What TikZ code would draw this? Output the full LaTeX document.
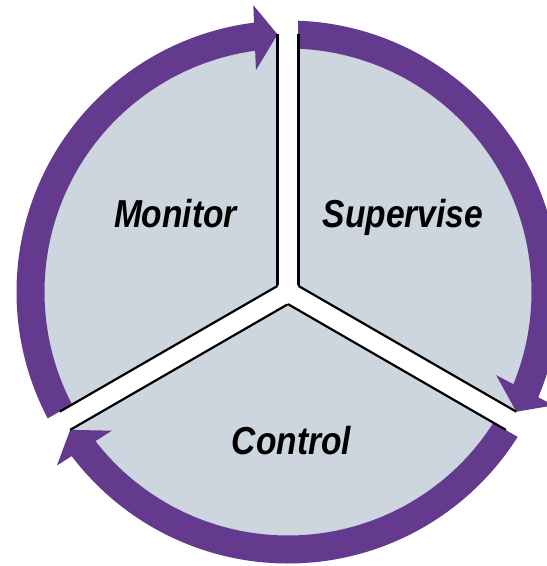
\documentclass[tikz,border=0pt]{standalone}
\usepackage{fontspec}
\setmainfont{Liberation Sans}
\definecolor{cyclepurple}{RGB}{100,58,142}
\definecolor{sectorgray}{RGB}{205,213,223}
\tikzset{
  band/.style={fill=cyclepurple},
  gapbar/.style={fill=white},
  gapedge/.style={draw=black, line width=2.2pt},
  phasetext/.style={anchor=base, inner sep=0pt,
    font=\fontsize{39}{39}\selectfont\bfseries\itshape},
}
% purple ring segment running clockwise from #2 to an arrowhead whose tip sits at angle #1
\newcommand{\cyclearrow}[2]{%
  \fill[band] (#2:271.5pt) arc[start angle=#2, end angle={#1+3.5}, radius=271.5pt]
    -- ({#1+3.5}:243.5pt) arc[start angle={#1+3.5}, end angle=#2, radius=243.5pt] -- cycle;
  \begin{scope}[rotate={#1-90}]
    \fill[band] (0pt,257.8pt) -- (-23pt,288pt) -- (-23pt,223pt) -- cycle;
  \end{scope}
}
\begin{document}
\begin{tikzpicture}
  \useasboundingbox (-288pt,-274pt) rectangle (259pt,292pt);
  \clip (-288pt,-274pt) rectangle (259pt,292pt);
  \fill[white] (-288pt,-274pt) rectangle (259pt,292pt);

  % three grey sectors (one disc, later split by white gaps)
  \fill[sectorgray] (0pt,0pt) circle[radius=257.8pt];

  % cycle arrows
  \cyclearrow{92.33}{210}
  \cyclearrow{332.33}{450}
  \cyclearrow{212.33}{330}

  % white gaps between the sectors, with black edges
  \foreach \ang in {90,210,330} {
    \begin{scope}[rotate=\ang]
      \fill[gapbar] (0pt,-10.5pt) rectangle (300pt,10.5pt);
      \draw[gapedge] (6.06pt,10.5pt) -- (257.6pt,10.5pt);
      \draw[gapedge] (6.06pt,-10.5pt) -- (257.6pt,-10.5pt);
    \end{scope}
  }

  % sector labels
  \node[phasetext] (monitor) at (-112.5pt,64.5pt) {\scalebox{0.86}[1]{Monitor}};
  \node[phasetext] (supervise) at (115pt,65pt) {\scalebox{0.86}[1]{Supervise}};
  \node[phasetext] (control) at (3.5pt,-162pt) {\scalebox{0.86}[1]{Control}};
\end{tikzpicture}
\end{document}
